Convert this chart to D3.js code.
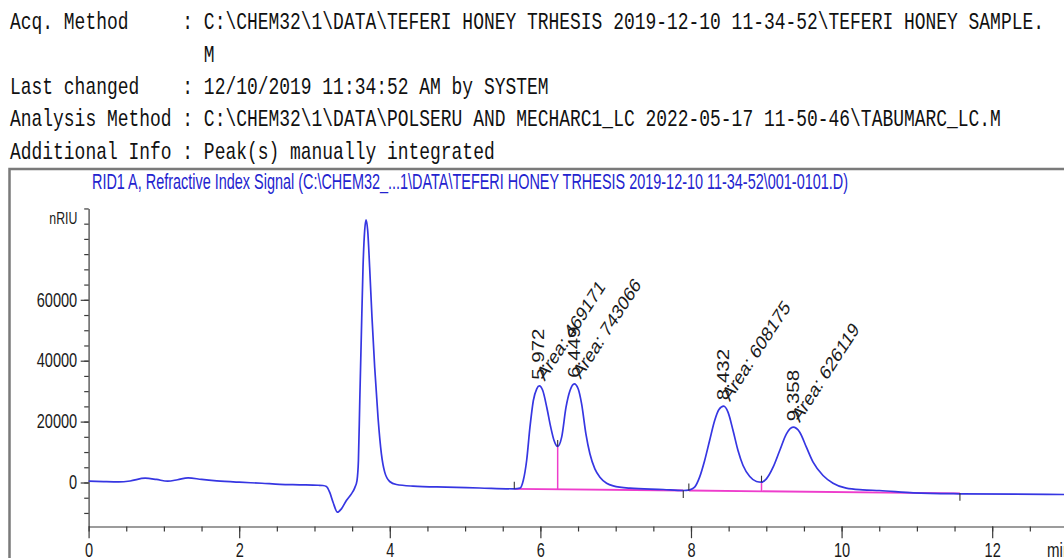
<!DOCTYPE html>
<html>
<head>
<meta charset="utf-8">
<script src="https://cdn.jsdelivr.net/npm/d3@7"></script>
<style>
  html, body { margin: 0; padding: 0; background: #fff; overflow: hidden; }
  svg { display: block; }
  .root path, .root line, .root rect { vector-effect: non-scaling-stroke; }
  .mono { font-family: "Liberation Mono", "Courier New", monospace; white-space: pre; }
  .sans { font-family: "Liberation Sans", Arial, sans-serif; }
</style>
</head>
<body>
<script>
// ---------------- data ----------------
const headerLines = [
  "Acq. Method     : C:\\CHEM32\\1\\DATA\\TEFERI HONEY TRHESIS 2019-12-10 11-34-52\\TEFERI HONEY SAMPLE.",
  "                  M",
  "Last changed    : 12/10/2019 11:34:52 AM by SYSTEM",
  "Analysis Method : C:\\CHEM32\\1\\DATA\\POLSERU AND MECHARC1_LC 2022-05-17 11-50-46\\TABUMARC_LC.M",
  "Additional Info : Peak(s) manually integrated"
];
const chartTitle = "RID1 A, Refractive Index Signal (C:\\CHEM32_...1\\DATA\\TEFERI HONEY TRHESIS 2019-12-10 11-34-52\\001-0101.D)";
const yUnit = "nRIU";
const xUnit = "min";

// signal trace: retention time (min) and response (nRIU)
const time = [0.00,0.20,0.40,0.55,0.75,0.90,1.05,1.18,1.32,1.50,1.70,2.00,2.30,2.54,2.80,3.05,3.11,3.157,3.20,3.245,
  3.303,3.356,3.422,3.489,3.533,3.563,3.582,3.600,3.621,3.643,3.665,3.683,3.705,3.731,3.762,3.798,3.842,3.887,3.931,3.997,
  4.086,4.307,4.75,5.19,5.652,5.728,5.771,5.816,5.860,5.905,5.950,5.985,6.030,6.083,6.136,6.180,6.228,6.281,6.339,6.392,
  6.449,6.500,6.546,6.603,6.656,6.722,6.789,6.878,6.966,7.188,7.63,7.896,7.98,8.047,8.113,8.180,8.246,8.313,8.370,8.433,
  8.490,8.557,8.623,8.690,8.779,8.868,8.935,9.000,9.089,9.177,9.266,9.354,9.443,9.531,9.620,9.752,9.885,10.06,10.28,10.5,
  10.95,11.57,12.95,13.5];
const signal = [430,300,220,500,1410,1000,430,900,1530,1000,550,100,-250,-600,-750,-900,-985,-1310,-3180,-6470,
  -9750,-8650,-5910,-3720,-1750,650,7200,26900,48800,70700,82750,86270,82750,70700,54300,37870,21440,9420,3400,330,
  -660,-1200,-1540,-1800,-2080,-1860,650,7220,18170,26930,30770,31750,30200,24730,18170,13800,11820,14880,24730,30200,
  32400,30770,25840,15990,9420,4490,1750,-220,-1100,-1860,-2300,-2630,-2410,-1530,1750,7220,13800,20360,23970,25060,
  23090,17080,10510,5580,1970,330,100,1200,5020,10510,15990,18170,16520,11590,6670,2300,-220,-1860,-2410,-2630,
  -3380,-3710,-3940,-4000];

// integrated peaks
const peakRT = [5.972, 6.449, 8.432, 9.358];
const peakHeight = [31750, 32400, 25060, 18170];
const peakArea = [469171, 743066, 608175, 626119];

// manual baselines (start/end) and drop lines
const baseStartT = [5.652, 7.97];
const baseStartV = [-2080, -2630];
const baseEndT = [7.896, 11.57];
const baseEndV = [-2630, -3550];
const dropT = [6.228, 8.935];
const dropTopV = [11820, 100];

// axis ticks
const xMajorTicks = [0, 2, 4, 6, 8, 10, 12, 14];
const xMinorStep = 0.5;
const yMajorTicks = [0, 20000, 40000, 60000];
const yMinorTicks = d3.range(-10000, 90001, 5000);

// ---------------- drawing ----------------
const W = 1064, H = 558;
const S = 0.774;               // horizontal squeeze of the original picture
const vx = px => px / S;       // real px -> virtual px

const svg = d3.select("body").append("svg").attr("width", W).attr("height", H);
svg.append("rect").attr("width", W).attr("height", H).attr("fill", "#fff");
const root = svg.append("g").attr("class", "root").attr("transform", `scale(${S},1)`);

// header
const header = root.append("g");
header.selectAll("text").data(headerLines).join("text")
  .attr("class", "mono")
  .attr("x", vx(10))
  .attr("y", (d, i) => 29.5 + i * 32.3)
  .attr("font-size", 23.2)
  .attr("fill", "#111")
  .text(d => d);

// chart frame
root.append("rect")
  .attr("x", vx(9.5)).attr("y", 169)
  .attr("width", vx(1200)).attr("height", 500)
  .attr("fill", "none").attr("stroke", "#7a7a7a").attr("stroke-width", 2.5);

// title
root.append("text").attr("class", "sans")
  .attr("x", vx(92)).attr("y", 189.5)
  .attr("font-size", 22).attr("fill", "#2323cf")
  .attr("textLength", vx(756)).attr("lengthAdjust", "spacingAndGlyphs")
  .text(chartTitle);

// scales
const x = d3.scaleLinear().domain([0, 14]).range([vx(88.7), vx(88.7 + 14 * 75.3)]);
const y = d3.scaleLinear().domain([-14450, 90000]).range([526.5, 526.5 - 104450 * 0.003045]);

// x axis
const xAxisY = 526.5;
const gxMinor = root.append("g").attr("transform", `translate(0,${xAxisY})`)
  .call(d3.axisBottom(x).tickValues(d3.range(0, 14.01, xMinorStep)).tickSize(5).tickFormat("").tickSizeOuter(0));
const gxMajor = root.append("g").attr("transform", `translate(0,${xAxisY})`)
  .call(d3.axisBottom(x).tickValues(xMajorTicks).tickSize(11.7).tickPadding(4.5).tickFormat(d3.format("d")).tickSizeOuter(0));
gxMajor.select(".domain").remove();

// y axis
const yAxisX = x(0);
const gyMinor = root.append("g").attr("transform", `translate(${yAxisX},0)`)
  .call(d3.axisLeft(y).tickValues(yMinorTicks).tickSize(vx(4.5)).tickFormat("").tickSizeOuter(0));
const gyMajor = root.append("g").attr("transform", `translate(${yAxisX},0)`)
  .call(d3.axisLeft(y).tickValues(yMajorTicks).tickSize(vx(8)).tickPadding(vx(3.5)).tickFormat(d3.format("d")).tickSizeOuter(0));
gyMajor.select(".domain").remove();

[gxMinor, gxMajor, gyMinor, gyMajor].forEach(g => {
  g.attr("color", "#3a3a3a").attr("font-size", 19.5)
   .attr("font-family", "Liberation Sans, Arial, sans-serif");
  g.selectAll("text").attr("fill", "#1a1a1a")
   .attr("textLength", function () { return vx(8.1) * this.textContent.length; })
   .attr("lengthAdjust", "spacingAndGlyphs");
  g.selectAll("line,path").attr("stroke-width", 1.2);
});

// axis units
root.append("text").attr("class", "sans")
  .attr("x", vx(77.3)).attr("y", 224)
  .attr("text-anchor", "end").attr("font-size", 17).attr("fill", "#1a1a1a")
  .attr("textLength", vx(28)).attr("lengthAdjust", "spacingAndGlyphs")
  .text(yUnit);
root.append("text").attr("class", "sans")
  .attr("x", vx(1047)).attr("y", xAxisY + 11.7 + 4.5).attr("dy", "0.71em")
  .attr("font-size", 19.5).attr("fill", "#1a1a1a")
  .text(xUnit);

// baselines
const baseGroup = root.append("g");
baseStartT.forEach((t0, i) => {
  baseGroup.append("line")
    .attr("x1", x(t0)).attr("y1", y(baseStartV[i]))
    .attr("x2", x(baseEndT[i])).attr("y2", y(baseEndV[i]))
    .attr("stroke", "#ee3dcc").attr("stroke-width", 1.8);
});
// drop lines
dropT.forEach((t, i) => {
  const seg = baseStartT.findIndex((s, k) => t >= s && t <= baseEndT[k]);
  const f = (t - baseStartT[seg]) / (baseEndT[seg] - baseStartT[seg]);
  const vb = baseStartV[seg] + f * (baseEndV[seg] - baseStartV[seg]);
  baseGroup.append("line")
    .attr("x1", x(t)).attr("y1", y(vb))
    .attr("x2", x(t)).attr("y2", y(dropTopV[i]))
    .attr("stroke", "#ee3dcc").attr("stroke-width", 1.5);
});

// signal
const line = d3.line().x((d, i) => x(time[i])).y(d => y(d)).curve(d3.curveMonotoneX);
root.append("path").datum(signal)
  .attr("d", line)
  .attr("fill", "none").attr("stroke", "#3636e2").attr("stroke-width", 1.7);

// event ticks
const tickG = root.append("g").attr("stroke", "#333").attr("stroke-width", 1.1);
baseStartT.forEach((t, i) => {
  tickG.append("line").attr("x1", x(t)).attr("x2", x(t))
    .attr("y1", y(baseStartV[i])).attr("y2", y(baseStartV[i]) - 7);
});
baseEndT.forEach((t, i) => {
  tickG.append("line").attr("x1", x(t)).attr("x2", x(t))
    .attr("y1", y(baseEndV[i])).attr("y2", y(baseEndV[i]) + 7.5);
});
dropT.forEach((t, i) => {
  tickG.append("line").attr("x1", x(t)).attr("x2", x(t))
    .attr("y1", y(dropTopV[i])).attr("y2", y(dropTopV[i]) - 6.5);
});

// peak labels
const lab = root.append("g").attr("class", "sans").attr("font-size", 20.5).attr("fill", "#1a1a1a");
peakRT.forEach((rt, i) => {
  const px = x(rt), py = y(peakHeight[i]);
  lab.append("text")
    .attr("transform", `translate(${px + vx(5.5)},${py - 6}) rotate(-90)`)
    .text(rt.toFixed(3));
  lab.append("text")
    .attr("transform", `translate(${px + vx(6.2)},${py - 4}) rotate(-50)`)
    .text("Area: " + peakArea[i]);
});
</script>
</body>
</html>
